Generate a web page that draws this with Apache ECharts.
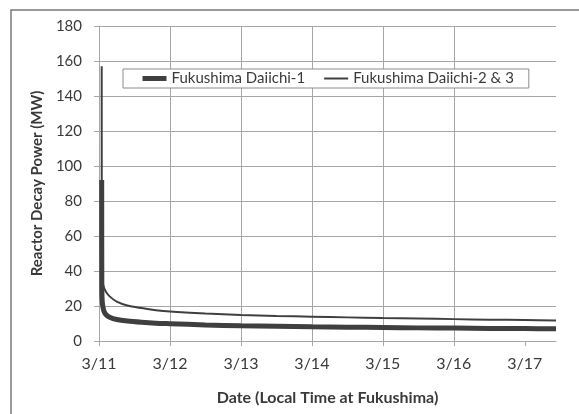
<!DOCTYPE html>
<html>
<head>
<meta charset="utf-8">
<script src="https://cdn.jsdelivr.net/npm/echarts@6/dist/echarts.min.js"></script>
<style>
  html, body { margin: 0; padding: 0; background: #fff; }
  #chart { width: 579px; height: 414px; }
</style>
</head>
<body>
<div id="chart"></div>
<script>
// days since 3/11 00:00
const days = [0.038, 0.04, 0.045, 0.055, 0.07, 0.1, 0.15, 0.25, 0.4, 0.6, 0.8, 1, 1.5, 2, 2.5, 3, 3.5, 4, 4.5, 5, 5.5, 6, 6.44]
// decay power, MW
const unit1 = [92, 30, 23, 19.5, 17, 15, 13.6, 12.3, 11.4, 10.7, 10.2, 9.9, 9.2, 8.7, 8.4, 8.1, 7.9, 7.7, 7.5, 7.4, 7.2, 7.1, 7.0]
const unit23 = [157, 45, 37, 33, 30.5, 28, 25.5, 22.5, 20.3, 18.8, 17.6, 16.8, 15.7, 14.9, 14.3, 13.9, 13.5, 13.1, 12.8, 12.5, 12.2, 12.0, 11.7]
const dateLabels = ['3/11', '3/12', '3/13', '3/14', '3/15', '3/16', '3/17']
const seriesNames = ['Fukushima Daiichi-1', 'Fukushima Daiichi-2 & 3']

const chart = echarts.init(document.getElementById('chart'))
const font = 'Lato'
const gridColor = '#a6a6a6'
const lineColor = '#3f3f3f'
const textColor = '#3a3a3a'
const tickDays = dateLabels.map((d, i) => i)

const toPairs = (vals) => days.map((d, i) => [d, vals[i]])

chart.setOption({
  animation: false,
  textStyle: { fontFamily: font },
  graphic: [
    {
      type: 'rect',
      shape: { x: 11, y: 10, width: 620, height: 460 },
      style: { fill: 'none', stroke: '#7a7a7a', lineWidth: 1.5 },
      silent: true,
    },
  ],
  grid: { left: 99, right: 23, top: 26, bottom: 73 },
  legend: {
    left: 123,
    top: 69,
    padding: [2, 15, 2, 17],
    itemGap: 18,
    itemWidth: 24,
    itemHeight: 14,
    backgroundColor: '#fff',
    borderColor: '#8c8c8c',
    borderWidth: 1,
    itemStyle: { opacity: 0 },
    textStyle: { fontFamily: font, fontSize: 15, color: textColor },
    data: [
      { name: seriesNames[0], lineStyle: { width: 5 } },
      { name: seriesNames[1], lineStyle: { width: 2 } },
    ],
  },
  xAxis: {
    type: 'value',
    min: 0,
    max: 6.44,
    interval: 1,
    name: 'Date (Local Time at Fukushima)',
    nameLocation: 'middle',
    nameGap: 49,
    nameTextStyle: { fontFamily: font, fontSize: 16, fontWeight: 'bold', color: textColor },
    axisLine: { lineStyle: { color: gridColor, width: 1 } },
    axisTick: { show: true, length: 5, lineStyle: { color: gridColor }, customValues: tickDays },
    axisLabel: {
      fontSize: 16,
      color: textColor,
      margin: 15,
      customValues: tickDays,
      formatter: (v) => dateLabels[Math.round(v)] || '',
    },
    splitLine: { show: true, showMinLine: false, showMaxLine: false, lineStyle: { color: gridColor, width: 1 } },
  },
  yAxis: {
    type: 'value',
    min: 0,
    max: 180,
    interval: 20,
    name: 'Reactor Decay Power (MW)',
    nameLocation: 'middle',
    nameGap: 53,
    nameTextStyle: { fontFamily: font, fontSize: 15, fontWeight: 'bold', color: textColor },
    axisLine: { show: true, lineStyle: { color: gridColor, width: 1 } },
    axisTick: { show: true, length: 5, lineStyle: { color: gridColor } },
    axisLabel: { fontSize: 15, color: textColor, margin: 17 },
    splitLine: { show: true, lineStyle: { color: gridColor, width: 1 } },
  },
  series: [
    {
      name: seriesNames[0],
      type: 'line',
      symbol: 'none',
      data: toPairs(unit1),
      lineStyle: { color: lineColor, width: 5 },
      itemStyle: { color: lineColor },
      smooth: 0.3,
      z: 3,
    },
    {
      name: seriesNames[1],
      type: 'line',
      symbol: 'none',
      data: toPairs(unit23),
      lineStyle: { color: lineColor, width: 2 },
      itemStyle: { color: lineColor },
      smooth: 0.3,
      z: 2,
    },
  ],
})
</script>
</body>
</html>
